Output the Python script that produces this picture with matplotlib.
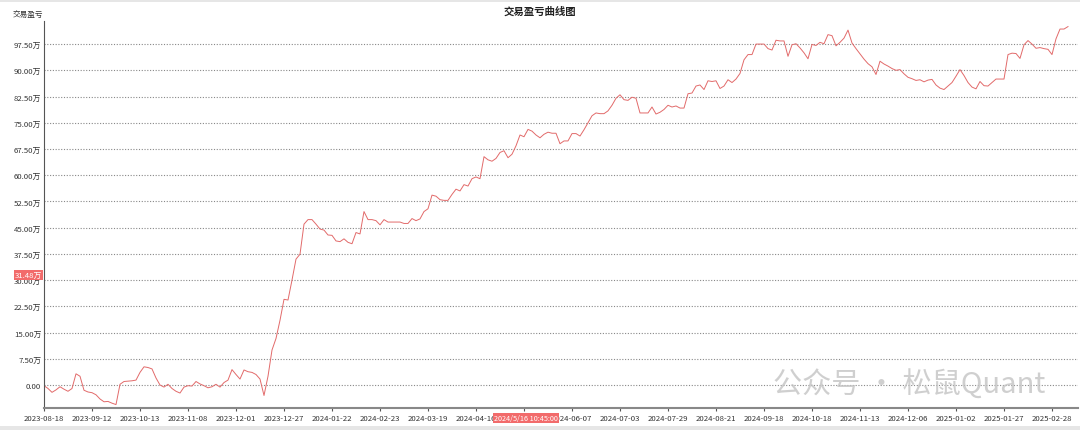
import matplotlib
matplotlib.use("Agg")
import matplotlib.pyplot as plt
from matplotlib.patches import Rectangle

plt.rcParams['font.family'] = ['Noto Sans CJK SC', 'DejaVu Sans']

# cumulative P&L (unit: 万), one value per bar
pnl = [
    -0.2, -1.0, -2.1, -1.4, -0.5, -1.2, -1.8, -1.0, 3.2, 2.5,
    -1.5, -2.0, -2.2, -2.8, -4.0, -4.8, -4.7, -5.2, -5.6, 0.2,
    1.0, 1.1, 1.2, 1.4, 3.6, 5.2, 5.0, 4.6, 2.0, 0.0,
    -0.6, 0.2, -1.0, -1.8, -2.3, -0.6, -0.2, -0.3, 1.0, 0.3,
    -0.2, -0.8, -0.5, 0.2, -0.6, 0.7, 1.4, 4.4, 3.0, 1.7,
    4.3, 3.8, 3.6, 3.0, 1.7, -3.0, 2.5, 10.0, 13.3, 18.5,
    24.5, 24.3, 30.0, 36.0, 37.4, 46.0, 47.3, 47.3, 46.0, 44.6,
    44.3, 42.9, 42.8, 41.2, 41.0, 41.8, 40.8, 40.4, 43.6, 43.2,
    49.6, 47.3, 47.3, 47.0, 45.8, 47.3, 46.6, 46.6, 46.6, 46.6,
    46.2, 46.2, 47.6, 47.0, 47.5, 49.6, 50.4, 54.3, 54.0, 53.0,
    52.8, 52.8, 54.5, 56.0, 55.5, 57.3, 56.9, 59.0, 59.5, 59.0,
    65.3, 64.4, 64.0, 64.8, 66.5, 67.0, 65.0, 66.0, 68.4, 71.5,
    71.0, 73.1, 72.6, 71.5, 70.7, 71.7, 72.3, 72.0, 72.0, 69.0,
    69.8, 69.8, 71.9, 71.9, 71.2, 73.0, 75.0, 77.0, 77.8, 77.6,
    77.6, 78.4, 80.0, 82.0, 83.0, 81.6, 81.4, 82.3, 82.0, 77.8,
    77.8, 77.8, 79.5, 77.5, 78.0, 78.8, 80.0, 79.5, 79.8, 79.2,
    79.2, 83.3, 83.5, 85.5, 85.8, 84.5, 87.0, 86.8, 87.0, 84.8,
    85.5, 87.3, 86.5, 87.5, 89.1, 93.0, 94.5, 94.5, 97.5, 97.5,
    97.5, 96.2, 95.8, 98.6, 98.4, 98.4, 94.0, 97.3, 97.6, 96.4,
    95.0, 93.3, 97.4, 97.1, 98.0, 97.6, 100.2, 99.9, 97.0, 98.0,
    99.2, 101.5, 97.8, 96.2, 94.7, 93.2, 91.9, 91.0, 88.8, 92.6,
    91.8, 91.2, 90.5, 90.0, 90.2, 89.0, 88.0, 87.6, 87.1, 87.3,
    86.7, 87.2, 87.4, 85.8, 84.9, 84.5, 85.5, 86.5, 88.3, 90.2,
    88.5, 86.5, 85.2, 84.7, 86.8, 85.6, 85.5, 86.5, 87.5, 87.5,
    87.5, 94.5, 94.9, 94.8, 93.4, 97.3, 98.5, 97.5, 96.3, 96.5,
    96.2, 96.0, 94.5, 99.0, 101.8, 101.8, 102.5,
]

date_labels = [
    "2023-08-18", "2023-09-12", "2023-10-13", "2023-11-08", "2023-12-01",
    "2023-12-27", "2024-01-22", "2024-02-23", "2024-03-19", "2024-04-16",
    "", "2024-06-07", "2024-07-03", "2024-07-29", "2024-08-21",
    "2024-09-18", "2024-10-18", "2024-11-13", "2024-12-06", "2025-01-02",
    "2025-01-27", "2025-02-28",
]
label_step = 12
y_ticks = [0, 7.5, 15, 22.5, 30, 37.5, 45, 52.5, 60, 67.5, 75, 82.5, 90, 97.5]

cursor_value = 31.48
cursor_bar = 120.5
cursor_time = "2024/5/16 10:45:00"

fig = plt.figure(figsize=(10.8, 4.31), dpi=100)
ax = fig.add_axes([44 / 1080, 1 - 409 / 431, 1034 / 1080, 387 / 431])

ax.plot(range(len(pnl)), pnl, color='#e26a6a', lw=0.7)

ax.set_xlim(0, 258.5)
ax.set_ylim(-6.58, 104.1)

ax.set_yticks(y_ticks)
ax.set_yticklabels(["0.00"] + [f"{v:.2f}万" for v in y_ticks[1:]])
ax.yaxis.grid(True, linestyle=(0, (1, 1.5)), color='#888888', lw=0.8)
ax.tick_params(axis='y', length=0, pad=2, labelsize=5.6, labelcolor='#333333')

xt = [i * label_step for i in range(len(date_labels))]
ax.set_xticks(xt)
ax.set_xticklabels(date_labels)
ax.tick_params(axis='x', length=2, pad=2, labelsize=5.6, labelcolor='#333333',
               color='#555555')

for s in ['top', 'right']:
    ax.spines[s].set_visible(False)
ax.spines['left'].set_color('#555555')
ax.spines['bottom'].set_color('#888888')
ax.spines['bottom'].set_linewidth(1.5)

# crosshair labels
ax.text(-0.002, cursor_value, f"{cursor_value:.2f}万", transform=ax.get_yaxis_transform(),
        ha='right', va='center', fontsize=5.6, color='white',
        bbox=dict(boxstyle='square,pad=0.15', fc='#f26b6b', ec='none'))
ax.text(cursor_bar, -0.015, cursor_time, transform=ax.get_xaxis_transform(),
        ha='center', va='top', fontsize=5.2, color='white',
        bbox=dict(boxstyle='square,pad=0.1', fc='#f26b6b', ec='none'))

fig.text(0.5, 1 - 12 / 431, "交易盈亏曲线图", ha='center', va='center',
         fontsize=7.5, fontweight='bold', color='#222222')
fig.text(28 / 1080, 1 - 15 / 431, "交易盈亏", ha='center', va='center',
         fontsize=5.5, color='#333333')

# watermark
fig.text(1045 / 1080, 1 - 386 / 431, "公众号 · 松鼠Quant", ha='right', va='center',
         fontsize=21, color='#c4c4c4', alpha=0.8)

# top and bottom gray strips
fig.patches.append(Rectangle((0, 1 - 3 / 431), 1, 3 / 431, transform=fig.transFigure,
                             fc='#e6e6e6', ec='none'))
fig.patches.append(Rectangle((0, 0), 1, 4 / 431, transform=fig.transFigure,
                             fc='#e6e6e6', ec='none'))

fig.savefig("out.png", dpi=100)
